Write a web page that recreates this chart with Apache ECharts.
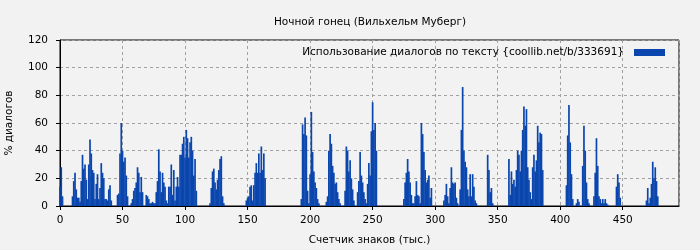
<!DOCTYPE html>
<html>
<head>
<meta charset="utf-8">
<script src="https://cdn.jsdelivr.net/npm/echarts@6/dist/echarts.min.js"></script>
<style>
html,body{margin:0;padding:0;background:#f2f2f2;}
#chart{width:700px;height:250px;}
</style>
</head>
<body>
<div id="chart"></div>
<script>
// Chart texts
const chartTitle = 'Ночной гонец (Вильхельм Муберг)';
const seriesName = 'Использование диалогов по тексту {coollib.net/b/333691}';
const xAxisName = 'Счетчик знаков (тыс.)';
const yAxisName = '% диалогов';

// Axis ranges
const xMin = 0, xMax = 495, xStep = 50;
const yMin = 0, yMax = 120, yStep = 20;

// Dialogue share (%) per thousand characters, index = thousand chars
const dialogPct = [
14,28,7,0,0,0,0,0,0,0,
7,18,24,12,6,6,3,18,37,27,
30,19,5,30,48,38,26,24,5,16,
23,5,13,31,24,20,5,5,4,12,
15,4,0,0,0,0,8,9,38,60,
40,32,35,22,7,0,0,2,5,11,
13,17,28,24,10,21,10,0,0,8,
7,5,2,2,3,2,2,10,18,41,
25,10,24,17,14,4,2,14,14,30,
8,26,4,14,21,14,37,37,45,50,
35,55,49,35,46,50,40,22,34,11,
0,0,0,0,0,0,0,0,0,0,
2,13,25,27,17,12,19,26,34,36,
7,2,0,0,0,0,0,0,0,0,
0,0,0,0,0,0,0,0,0,4,
6,7,14,15,4,15,24,31,24,38,
24,43,26,38,20,0,0,0,0,0,
0,0,0,0,0,0,0,0,0,0,
0,0,0,0,0,0,0,0,0,0,
0,0,0,5,59,52,64,51,11,2,
23,68,39,25,17,13,5,2,0,0,
0,0,0,3,7,40,52,45,29,24,
16,17,10,5,2,0,0,0,11,43,
40,25,33,20,12,4,0,0,10,18,
39,22,17,10,5,2,16,31,22,54,
75,55,60,40,0,0,0,0,0,0,
0,0,0,0,0,0,0,0,0,0,
0,0,0,0,0,5,17,24,34,25,
17,8,2,2,7,18,8,7,2,60,
52,39,26,17,19,22,6,13,0,0,
0,0,0,0,0,0,0,4,8,16,
7,2,13,28,17,16,17,6,2,0,
12,55,86,40,32,28,12,7,23,7,
23,14,4,2,0,0,0,0,0,0,
0,0,37,26,10,13,2,0,0,0,
0,0,0,0,0,0,0,0,0,34,
8,25,16,19,14,26,40,37,25,40,
55,72,58,70,28,19,10,5,28,37,
25,33,58,46,53,52,26,0,0,0,
0,0,0,0,0,0,0,0,0,0,
0,0,0,0,0,15,51,73,46,23,
5,0,0,2,5,3,0,0,29,58,
40,17,5,2,0,0,0,7,24,49,
29,7,5,2,5,2,5,2,1,0,
0,0,0,0,0,14,23,17,6,0,
0,0,0,0,0,0,0,0,0,0,
0,0,0,0,0,0,0,0,0,4,
13,2,6,16,32,20,28,18,7
];

const barData = dialogPct.map((v, i) => [i, v]);

const chart = echarts.init(document.getElementById('chart'), null, {renderer: 'canvas'});
const font = 'DejaVu Sans';
const fs = 10.5;
const gridLine = {show: true, lineStyle: {color: '#a0a0a0', type: [3, 3], width: 1}};

chart.setOption({
  backgroundColor: '#f2f2f2',
  animation: false,
  textStyle: {fontFamily: font},
  title: {
    text: chartTitle,
    left: 365,
    top: 12,
    textAlign: 'center',
    textStyle: {fontFamily: font, fontSize: fs, fontWeight: 'normal', color: '#000'}
  },
  legend: {
    data: [seriesName],
    right: 30,
    top: 42,
    align: 'right',
    icon: 'rect',
    itemWidth: 31,
    itemHeight: 7,
    textStyle: {fontFamily: font, fontSize: fs, color: '#000', padding: [0, 5, 0, 0]}
  },
  grid: {
    left: 60, right: 21, top: 40, bottom: 44,
    containLabel: false,
    outerBoundsMode: 'none',
    show: true, borderColor: '#000', borderWidth: 1, backgroundColor: 'transparent'
  },
  xAxis: {
    type: 'value',
    min: xMin, max: xMax, interval: xStep,
    name: xAxisName,
    nameLocation: 'middle',
    nameGap: 29,
    nameTextStyle: {fontFamily: font, fontSize: fs, color: '#000'},
    axisLine: {show: true, lineStyle: {color: '#000'}},
    axisTick: {show: true, length: 4, lineStyle: {color: '#000'}},
    axisLabel: {fontFamily: font, fontSize: fs, color: '#000', margin: 9,
      showMaxLabel: false},
    splitLine: gridLine
  },
  yAxis: {
    type: 'value',
    min: yMin, max: yMax, interval: yStep,
    name: yAxisName,
    nameLocation: 'middle',
    nameGap: 45,
    nameTextStyle: {fontFamily: font, fontSize: fs, color: '#000'},
    axisLine: {show: true, lineStyle: {color: '#000'}},
    axisTick: {show: true, length: 4, lineStyle: {color: '#000'}},
    axisLabel: {fontFamily: font, fontSize: fs, color: '#000', margin: 12},
    splitLine: gridLine
  },
  series: [{
    name: seriesName,
    type: 'bar',
    data: barData,
    barWidth: 1.7,
    itemStyle: {color: '#0a46ae'},
    z: 3
  }]
});
</script>
</body>
</html>
